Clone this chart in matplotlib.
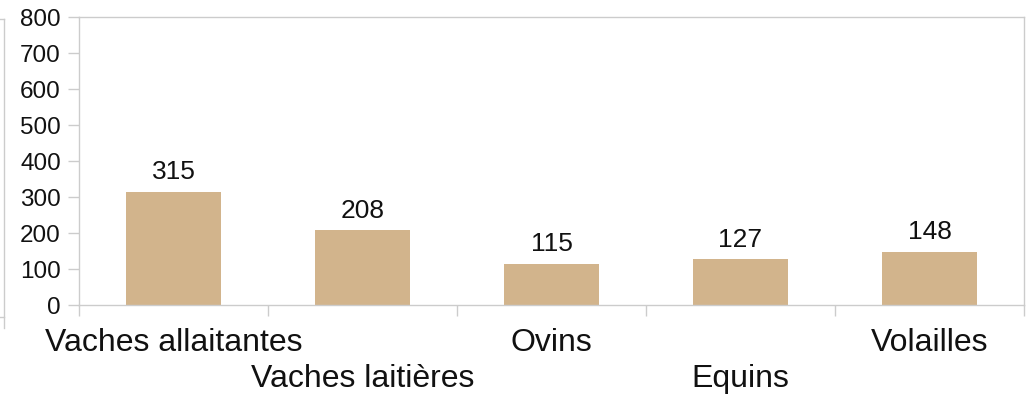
import matplotlib
matplotlib.use("Agg")
import matplotlib.pyplot as plt
from matplotlib.lines import Line2D
import numpy as np

plt.rcParams["font.family"] = ["Liberation Sans", "DejaVu Sans"]

categories = ["Vaches allaitantes", "Vaches laitières", "Ovins", "Equins", "Volailles"]
values = [315, 208, 115, 127, 148]
y_ticks = [0, 100, 200, 300, 400, 500, 600, 700, 800]

bar_color = "#d2b48c"
line_color = "#cccccc"

W, H = 1034, 398
fig = plt.figure(figsize=(W / 100, H / 100), dpi=100)
ax = fig.add_axes([79 / W, 1 - 305 / H, (1024 - 79) / W, (305 - 17) / H])

x = np.arange(len(categories)) + 0.5
bars = ax.bar(x, values, width=0.5, color=bar_color, zorder=2)

for xi, v in zip(x, values):
    ax.annotate(str(v), (xi, v), xytext=(0, 9), textcoords="offset points",
                ha="center", va="baseline", fontsize=19, color="#111111")

ax.set_xlim(0, len(categories))
ax.set_ylim(0, 800)
ax.set_yticks(y_ticks)
ax.tick_params(axis="y", length=8, width=1, color=line_color, pad=5,
               labelsize=17.5, labelcolor="#111111")

# boundary ticks only; category names staggered on two rows
ax.set_xticks(np.arange(len(categories) + 1))
ax.set_xticklabels([])
ax.tick_params(axis="x", length=8, width=1, color=line_color)
for i, (xi, c) in enumerate(zip(x, categories)):
    dy = -16.5 if i % 2 == 0 else -42.5
    ax.annotate(c, (xi, 0), xycoords=("data", "axes fraction"),
                xytext=(0, dy), textcoords="offset points",
                ha="center", va="top", fontsize=23, color="#111111")

for s in ax.spines.values():
    s.set_color(line_color)
    s.set_linewidth(1)

# edge of the outer frame on the left
fig.add_artist(Line2D([4 / W, 4 / W], [1 - 19 / H, 1 - 328 / H],
                      color=line_color, lw=1))
fig.add_artist(Line2D([0, 4 / W], [1 - 19 / H, 1 - 19 / H], color=line_color, lw=1))
fig.add_artist(Line2D([0, 4 / W], [1 - 317 / H, 1 - 317 / H], color=line_color, lw=1))

fig.savefig("out.png", dpi=100)
